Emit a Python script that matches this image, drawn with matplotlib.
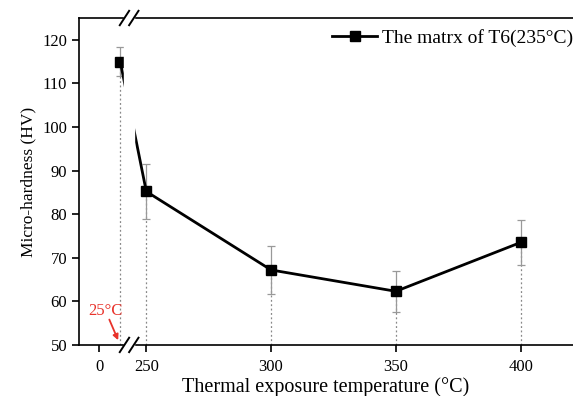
import numpy as np
import matplotlib
matplotlib.use("Agg")
import matplotlib.pyplot as plt

# data
temps = [25, 250, 300, 350, 400]
hardness = [115.0, 85.2, 67.2, 62.3, 73.5]
errors = [3.4, 6.3, 5.6, 4.7, 5.1]
xticks = [0, 250, 300, 350, 400]
yticks = [50, 60, 70, 80, 90, 100, 110, 120]

plt.rcParams['font.family'] = ['Liberation Serif', 'DejaVu Serif']

# broken x axis: squeeze the gap between 30 and 245
xp = [-100, 30, 245, 500]
fp = [-33.68, 10.10, 13.85, 268.85]

def fwd(x):
    return np.interp(x, xp, fp)

def inv(x):
    return np.interp(x, fp, xp)

fig = plt.figure(figsize=(5.73, 3.96), dpi=100)
ax = fig.add_axes([0.138, 0.129, 0.862, 0.8255])
ax.set_xscale('function', functions=(fwd, inv))
ax.set_xlim(-24, 421)
ax.set_ylim(50, 125)

# dotted drop lines
ax.vlines(temps, 50, hardness, colors='#888888', linestyles=(0, (1.5, 2)), lw=0.9, zorder=1)

ax.errorbar(temps, hardness, yerr=errors, fmt='none', ecolor='#999999',
            elinewidth=0.9, capsize=3, capthick=0.9, zorder=2)
ax.plot(temps, hardness, color='black', lw=2, marker='s', markersize=6.5,
        label='The matrx of T6(235°C)', zorder=2.1)

# white band over the break
ax.axvspan(30, 245, ymin=-0.02, ymax=1.02, color='white', zorder=3, clip_on=False)

# break marks
trans = ax.transAxes.inverted()
xa1 = trans.transform(ax.transData.transform((30, 50)))[0]
xa2 = trans.transform(ax.transData.transform((245, 50)))[0]
dx, dy = 0.0095, 0.022
for xa in (xa1, xa2):
    for ya in (0, 1):
        ax.plot([xa - dx, xa + dx], [ya - dy, ya + dy], transform=ax.transAxes,
                color='black', lw=1.4, clip_on=False, zorder=4)

ax.spines['right'].set_visible(False)
for s in ('left', 'bottom', 'top'):
    ax.spines[s].set_linewidth(1.2)

ax.set_xticks(xticks)
ax.set_xticklabels([str(t) for t in xticks])
ax.set_yticks(yticks)
ax.tick_params(axis='both', direction='out', length=5, width=1.2, labelsize=12, colors='black')
ax.tick_params(axis='x', pad=5)

ax.set_xlabel('Thermal exposure temperature (°C)', fontsize=14.5, labelpad=2)
ax.set_ylabel('Micro-hardness (HV)', fontsize=12.5, labelpad=4)

ax.legend(loc='upper right', frameon=False, fontsize=14, handlelength=2.3,
          handletextpad=0.25, borderpad=0, borderaxespad=0, bbox_to_anchor=(1.0, 0.966))

# red annotation for the room temperature point
ax.text(-13, 56.9, '25°C', color='#e8322a', fontsize=12, zorder=5)
ax.annotate('', xy=(23.8, 50.5), xytext=(10.7, 56.4),
            arrowprops=dict(arrowstyle='-|>', color='#e8322a', lw=1.3, mutation_scale=8),
            zorder=5)

fig.savefig('out.png', dpi=100)
